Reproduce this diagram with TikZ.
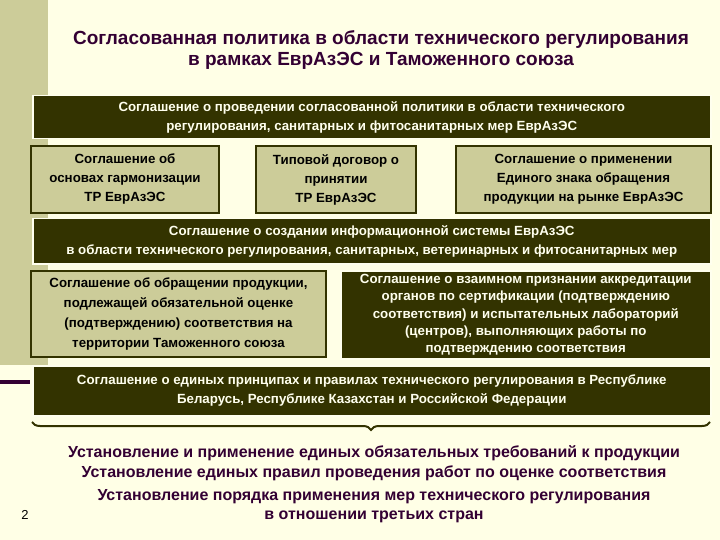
\documentclass[tikz,border=0pt]{standalone}
\usepackage{fontspec}
\setmainfont{Liberation Sans}
\usetikzlibrary{decorations.pathreplacing}
\definecolor{bg}{HTML}{FFFFE6}
\definecolor{side}{HTML}{CCCC99}
\definecolor{dk}{HTML}{333300}
\definecolor{lt}{HTML}{CCCC99}
\definecolor{pur}{HTML}{330033}
\definecolor{wt}{HTML}{FFFFEE}
\tikzset{
 dbox/.style={draw=wt,line width=1.5pt,fill=dk,text=wt,anchor=north west,align=center,inner sep=1pt,font=\bfseries\fontsize{13.3}{19}\selectfont},
 lbox/.style={draw=dk,line width=2pt,fill=lt,text=black,anchor=north west,align=center,inner sep=1pt,font=\bfseries\fontsize{13.3}{19}\selectfont},
 btxt/.style={text=pur,font=\bfseries\fontsize{16}{19}\selectfont,align=center}
}
\begin{document}
\begin{tikzpicture}[x=1pt,y=-1pt]
\fill[bg] (0,0) rectangle (720,540);
\useasboundingbox (0,0) rectangle (720,540);
\fill[side] (0,0) rectangle (48,365);
\fill[pur] (0,380) rectangle (30,384);
\node[text=pur,font=\bfseries\fontsize{19}{21}\selectfont,align=center] (title) at (381,50) {Согласованная политика в области технического регулирования\\в рамках ЕврАзЭС и Таможенного союза};
\node[dbox,minimum width=678,minimum height=43] (b1) at (32,95) {Соглашение о проведении согласованной политики в области технического\\регулирования, санитарных и фитосанитарных мер ЕврАзЭС};
\node[lbox,minimum width=188,minimum height=67] (b2a) at (30,145) {Соглашение об\\основах гармонизации\\ТР ЕврАзЭС};
\node[lbox,minimum width=160,minimum height=67] (b2b) at (255,145) {Типовой договор о\\принятии\\ТР ЕврАзЭС};
\node[lbox,minimum width=255,minimum height=67] (b2c) at (455,145) {Соглашение о применении\\Единого знака обращения\\продукции на рынке ЕврАзЭС};
\node[dbox,minimum width=678,minimum height=45] (b3) at (32,218) {Соглашение о создании информационной системы ЕврАзЭС\\в области технического регулирования, санитарных, ветеринарных и фитосанитарных мер};
\node[lbox,minimum width=295,minimum height=86,font=\bfseries\fontsize{13.3}{20}\selectfont] (b4a) at (30,270) {Соглашение об обращении продукции,\\подлежащей обязательной оценке\\(подтверждению) соответствия на\\территории Таможенного союза};
\node[dbox,minimum width=370,minimum height=88,font=\bfseries\fontsize{13.3}{17.3}\selectfont] (b4b) at (340,270) {Соглашение о взаимном признании аккредитации\\органов по сертификации (подтверждению\\соответствия) и испытательных лабораторий\\(центров), выполняющих работы по\\подтверждению соответствия};
\node[dbox,minimum width=678,minimum height=50] (b5) at (32,365) {Соглашение о единых принципах и правилах технического регулирования в Республике\\Беларусь, Республике Казахстан и Российской Федерации};
\coordinate (bl) at (32,422);
\coordinate (br) at (710,422);
\draw[dk,line width=2pt,decorate,decoration={brace,mirror,amplitude=8pt,aspect=0.5}] (bl) -- (br);
\node[btxt] (t1) at (374,453) {Установление и применение единых обязательных требований к продукции};
\node[btxt] (t2) at (374,473) {Установление единых правил проведения работ по оценке соответствия};
\node[btxt] (t3) at (374,506) {Установление порядка применения мер технического регулирования\\в отношении третьих стран};
\node[font=\fontsize{13}{15}\selectfont] (pg) at (25,515) {2};
\end{tikzpicture}
\end{document}
